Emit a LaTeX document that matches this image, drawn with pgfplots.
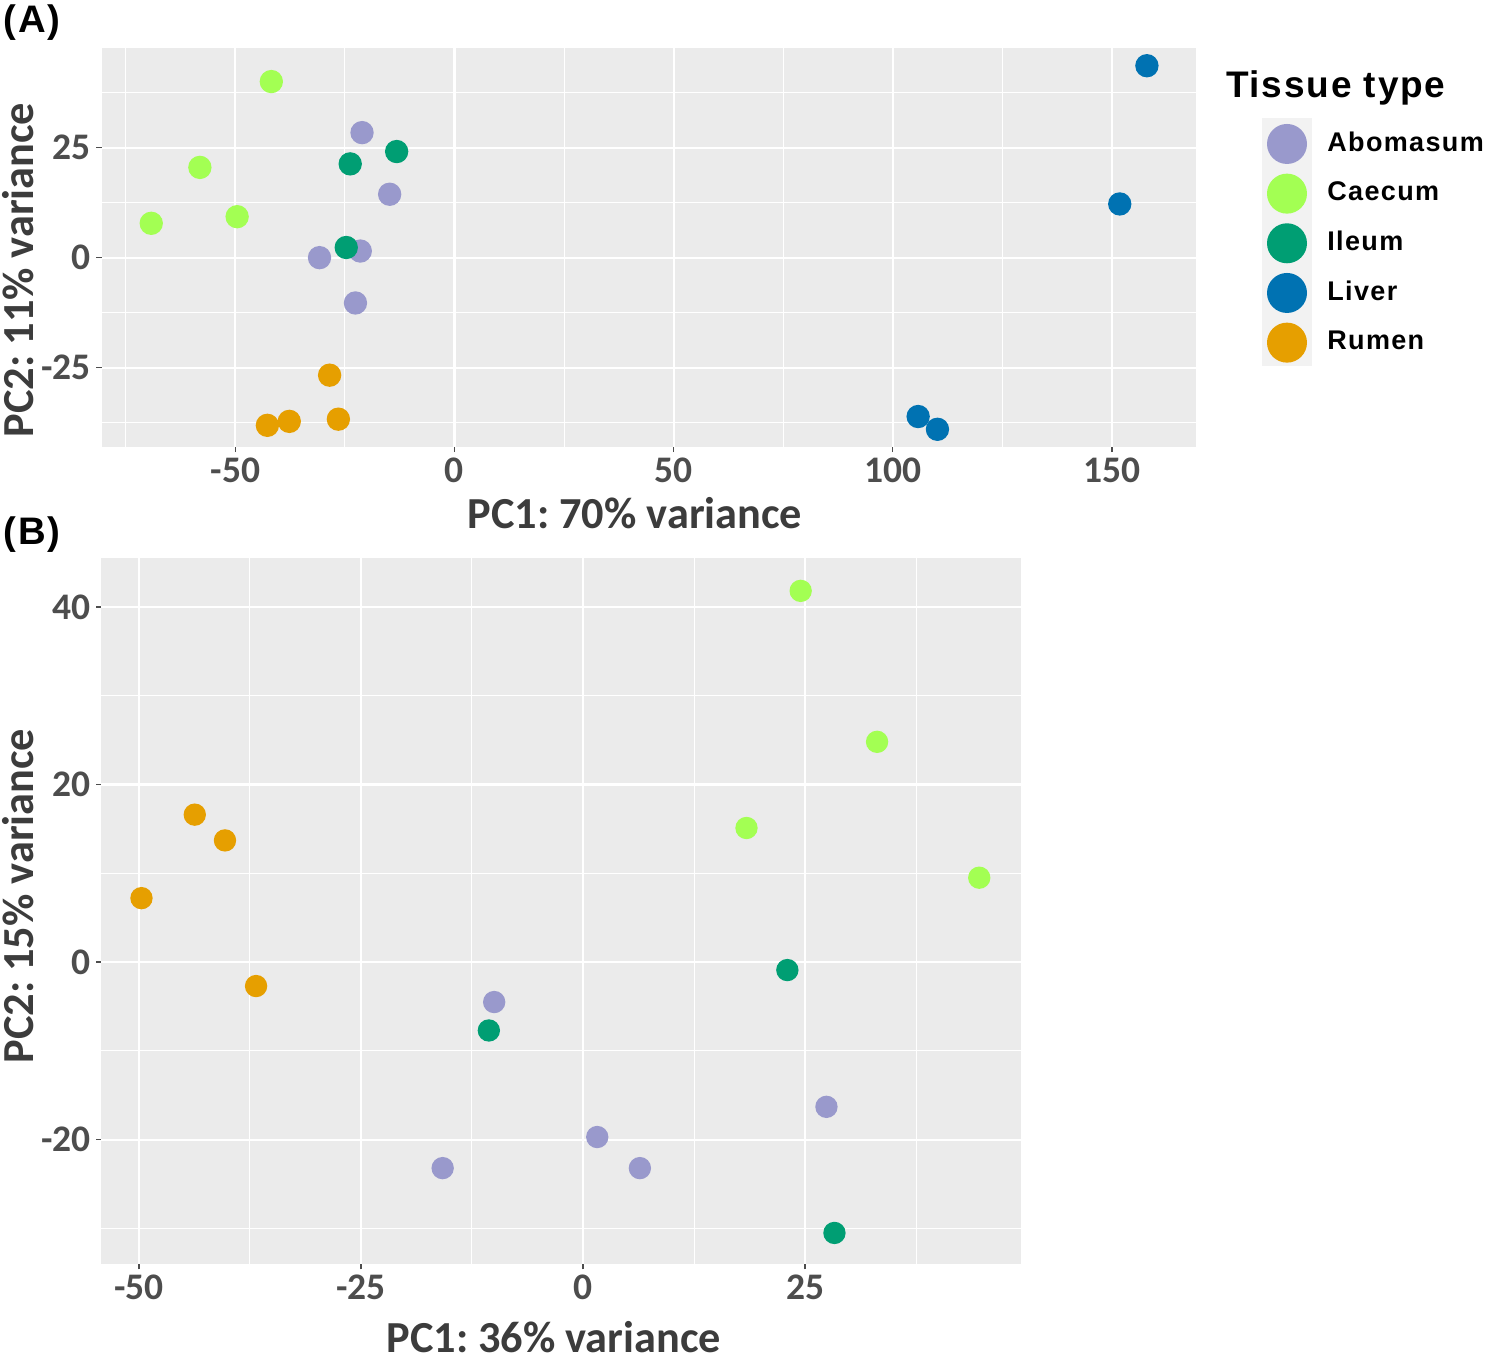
\documentclass[border=0pt]{standalone}
\usepackage{pgfplots}
\pgfplotsset{compat=1.18}
\usepackage{fontspec}
\setmainfont{Carlito}
\newfontfamily\legfont{Liberation Sans}[LetterSpace=5]
\frenchspacing
\definecolor{abom}{RGB}{153,153,204}
\definecolor{caec}{RGB}{163,255,83}
\definecolor{ileum}{RGB}{0,158,115}
\definecolor{liver}{RGB}{0,114,178}
\definecolor{rumen}{RGB}{230,159,0}
\definecolor{panelbg}{RGB}{235,235,235}
\definecolor{keybg}{RGB}{242,242,242}
\definecolor{tickc}{RGB}{77,77,77}
\definecolor{titlec}{RGB}{60,60,60}
\pgfplotsset{
 ggbase/.style={
  scale only axis,
  axis background/.style={fill=panelbg},
  axis line style={draw=none},
  grid=both,
  major grid style={white, line width=0.65pt},
  minor grid style={white, line width=0.3pt},
  tick align=outside,
  tick pos=left,
  major tick length=1.6pt,
  minor tick length=0pt,
  tick style={color=tickc, line width=0.45pt},
  ticklabel style={font=\bfseries\fontsize{11.25}{13}\selectfont, text=tickc, inner sep=0pt},
  xticklabel style={yshift=-1.5pt},
  yticklabel style={xshift=-1.5pt},
  label style={font=\bfseries\fontsize{13.3}{15}\selectfont, text=titlec},
  /pgf/number format/assume math mode=true,
  clip=false,
 },
 pt/.style 2 args={only marks, mark=*, mark size=#2, color=#1,
   legend image code/.code={\path[draw=none,fill=none] (0pt,-6pt) rectangle (15pt,6pt); \fill[#1, draw=none] (7.5pt,0pt) circle (6pt);}},
}
\begin{document}
\begin{tikzpicture}
\useasboundingbox (0pt,0pt) rectangle (445.5pt,-408pt);
\fill[keybg] (378.6pt,-35.4pt) rectangle (393.6pt,-109.8pt);
\node[anchor=base west, inner sep=0pt, font=\legfont\bfseries\fontsize{11.1}{13}\selectfont] at (367.6pt,-29.1pt) {Tissue type};
\node[anchor=base west, inner sep=0pt, font=\legfont\bfseries\fontsize{11.5}{13}\selectfont] at (0.9pt,-9.6pt) {(A)};
\node[anchor=base west, inner sep=0pt, font=\legfont\bfseries\fontsize{11.5}{13}\selectfont] at (0.9pt,-163.2pt) {(B)};

\begin{axis}[ggbase, at={(30.45pt,-134.0pt)}, anchor=south west,
 width=328.35pt, height=119.7pt,
 xmin=-80.55, xmax=169.2, ymin=-42.95, ymax=47.7,
 xtick={-50,0,50,100,150}, minor xtick={-75,-25,25,75,125},
 ytick={-25,0,25}, minor ytick={-37.5,-12.5,12.5,37.5},
 xlabel={PC1: 70\% variance}, ylabel={PC2: 11\% variance},
 xlabel style={at={(0.4874,-0.1662)}, anchor=center},
 ylabel style={at={(-0.0763,0.4429)}, anchor=center},
 legend cell align=left,
 legend style={at={(1.0603,0.8088)}, anchor=north west, draw=none, fill=none,
   inner sep=0pt, outer sep=0pt, row sep=2.9pt, column sep=4.6pt,
   font=\legfont\bfseries\fontsize{8.1}{9.6}\selectfont,
   nodes={inner sep=0pt, outer sep=0pt}},
]
\addplot[pt={abom}{3.3pt}] table {
x y
-21.1 28.4
-14.8 14.4
-30.8 0.0
-21.5 1.5
-22.6 -10.3
};
\addlegendentry{Abomasum}
\addplot[pt={caec}{3.3pt}] table {
x y
-41.8 40.0
-58.1 20.5
-69.2 7.8
-49.6 9.3
};
\addlegendentry{Caecum}
\addplot[pt={ileum}{3.3pt}] table {
x y
-13.2 24.1
-23.8 21.3
-24.7 2.3
};
\addlegendentry{Ileum}
\addplot[pt={liver}{3.3pt}] table {
x y
158.0 43.6
151.8 12.2
105.8 -36.1
110.2 -39.0
};
\addlegendentry{Liver}
\addplot[pt={rumen}{3.3pt}] table {
x y
-28.5 -26.7
-26.5 -36.7
-37.7 -37.2
-42.7 -38.1
};
\addlegendentry{Rumen}
\end{axis}

\begin{axis}[ggbase, at={(30.45pt,-379.2pt)}, anchor=south west,
 width=275.85pt, height=211.8pt,
 xmin=-54.2, xmax=49.3, ymin=-34.0, ymax=45.5,
 xtick={-50,-25,0,25}, minor xtick={-37.5,-12.5,12.5,37.5},
 ytick={-20,0,20,40}, minor ytick={-30,-10,10,30},
 xlabel={PC1: 36\% variance}, ylabel={PC2: 15\% variance},
 xlabel style={at={(0.4918,-0.1034)}, anchor=center},
 ylabel style={at={(-0.0908,0.5212)}, anchor=center},
]
\addplot[pt={abom}{3.15pt}] table {
x y
-10.0 -4.5
-15.8 -23.2
1.6 -19.7
6.4 -23.2
27.4 -16.3
};
\addplot[pt={caec}{3.15pt}] table {
x y
24.5 41.8
33.1 24.8
18.4 15.1
44.6 9.5
};
\addplot[pt={ileum}{3.15pt}] table {
x y
23.0 -0.9
-10.6 -7.7
28.3 -30.5
};
\addplot[pt={rumen}{3.15pt}] table {
x y
-43.7 16.6
-40.3 13.7
-49.7 7.2
-36.8 -2.7
};
\end{axis}
\end{tikzpicture}
\end{document}
